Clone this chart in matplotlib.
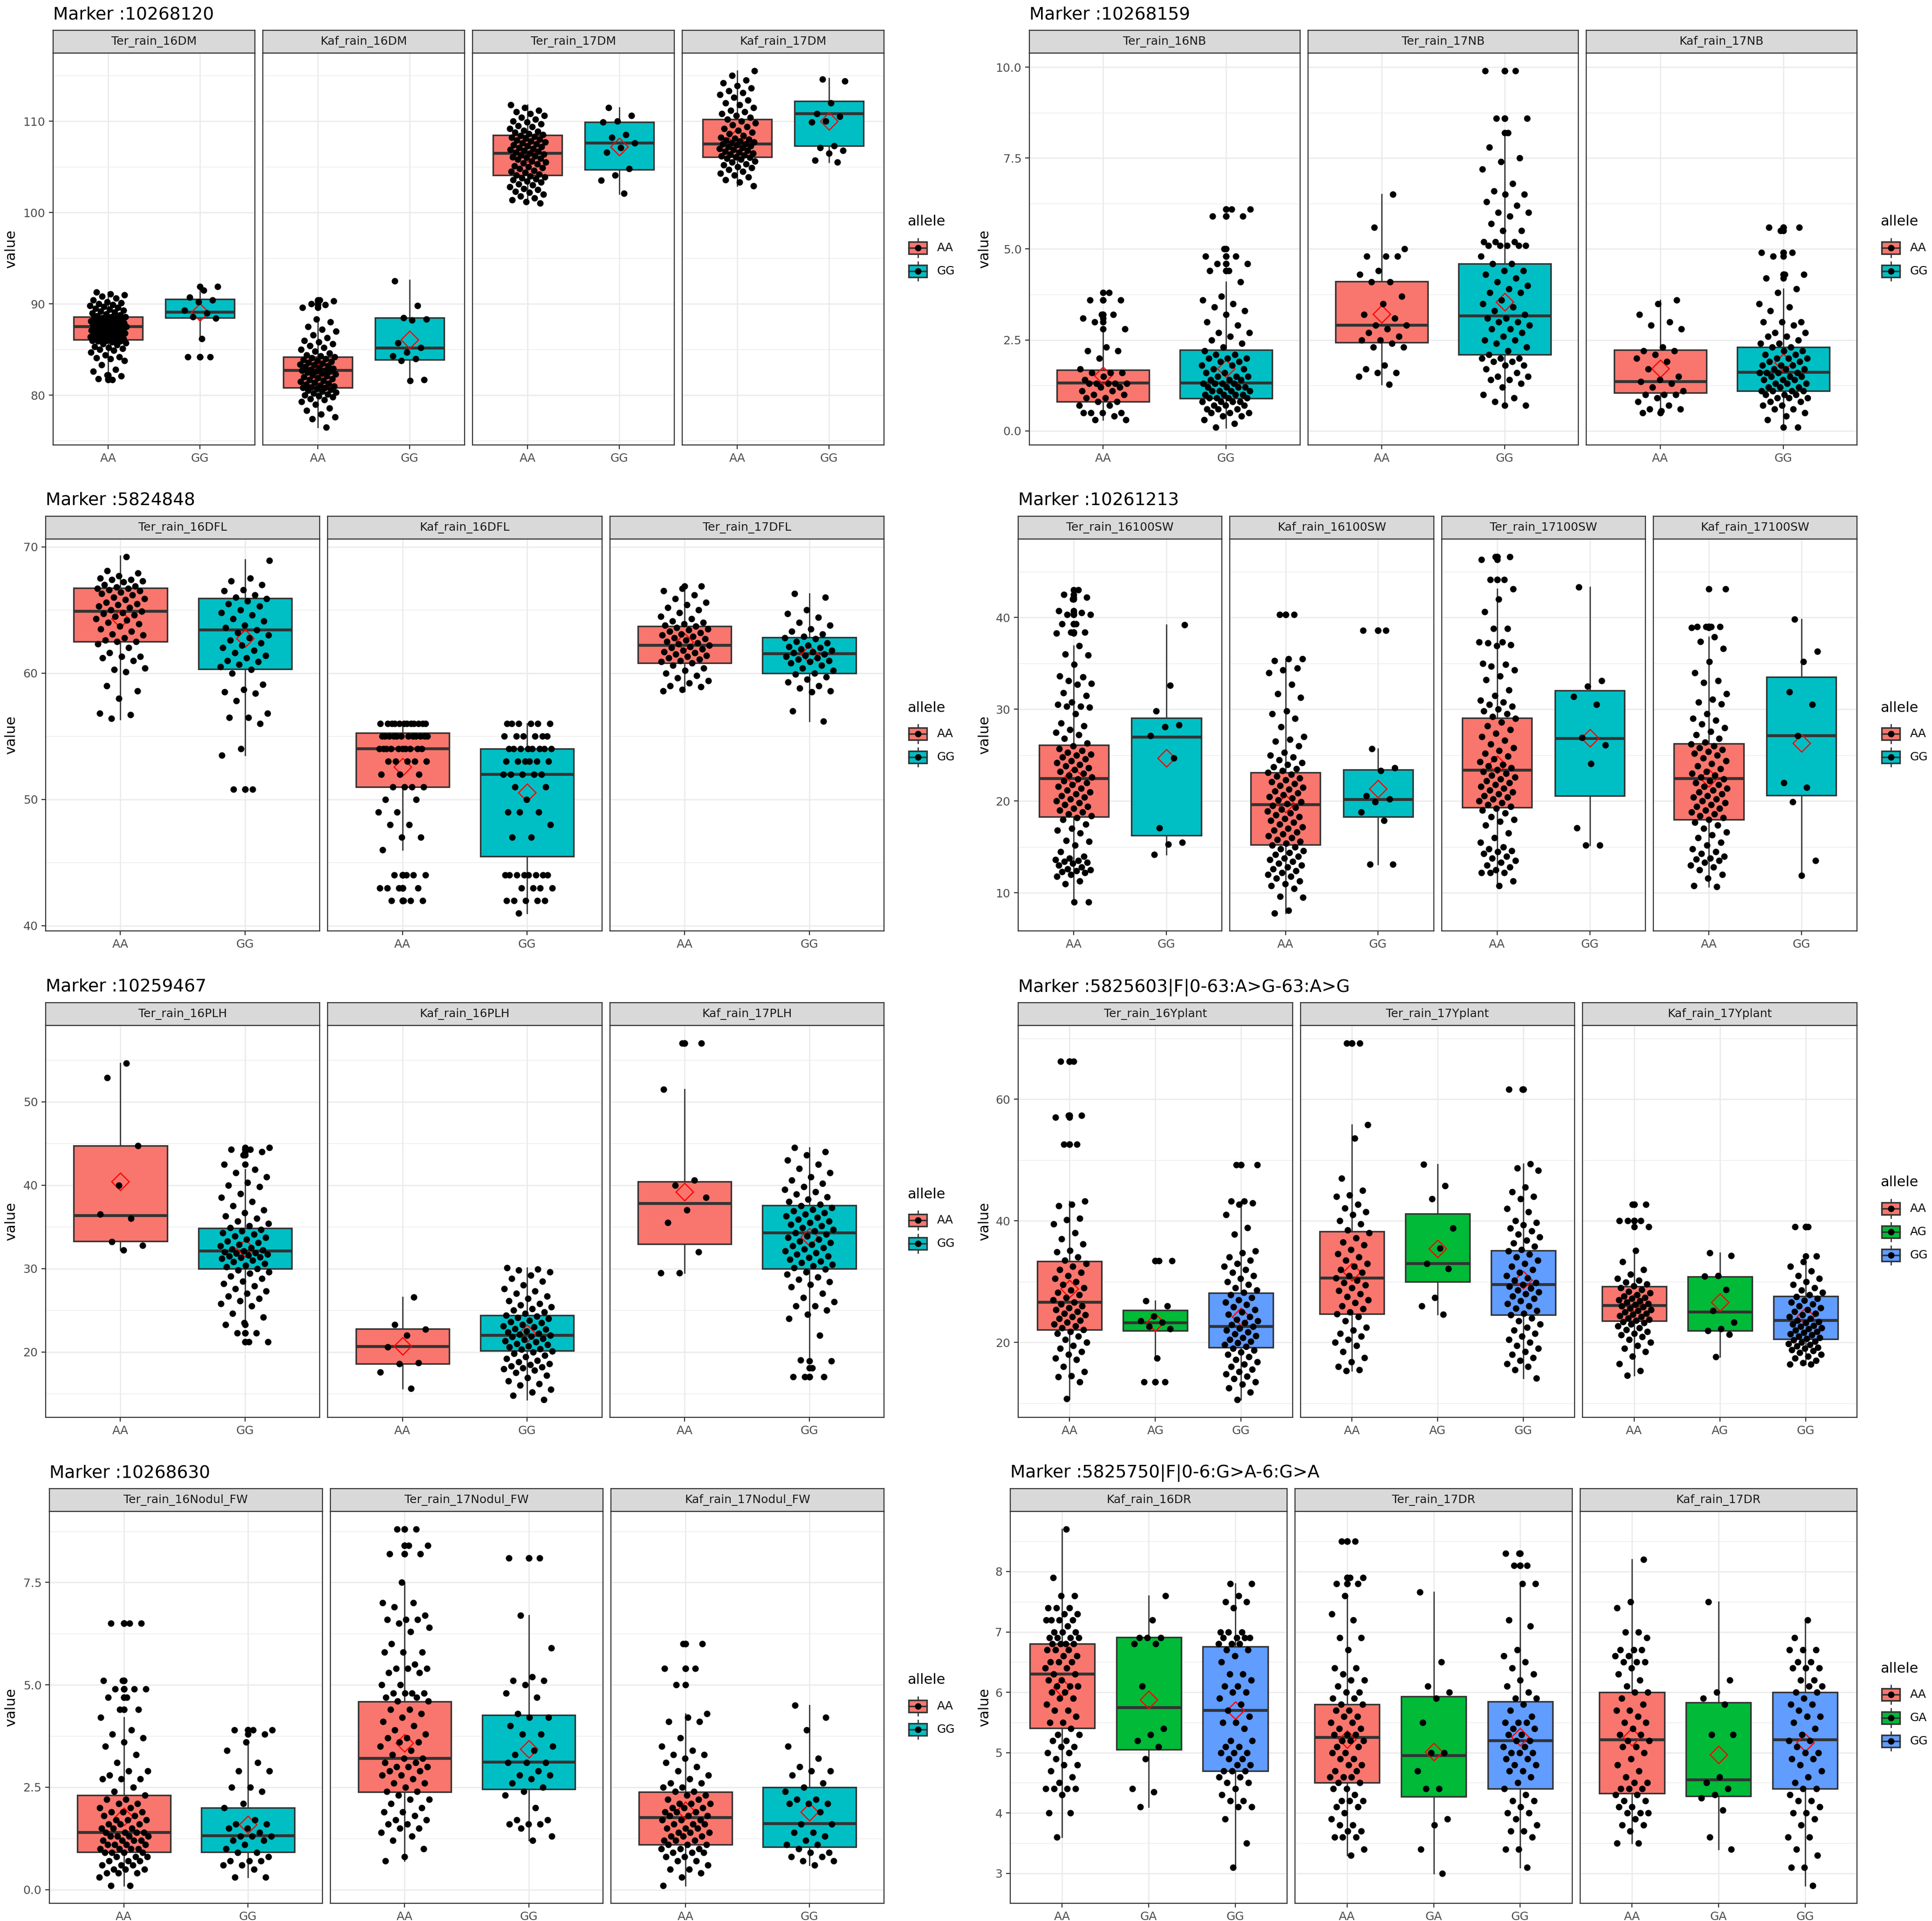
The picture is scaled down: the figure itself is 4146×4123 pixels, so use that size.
import numpy as np
import matplotlib.pyplot as plt
from matplotlib.patches import Rectangle

W, H, DPI = 4146, 4123, 300

# ---------------- data ----------------
# box stats per allele: [whisker low, Q1, median, Q3, whisker high, mean]

# --- Marker 10268120 ---
m1_title = "Marker :10268120"
m1_facets = ["Ter_rain_16DM", "Kaf_rain_16DM", "Ter_rain_17DM", "Kaf_rain_17DM"]
m1_alleles = ["AA", "GG"]
m1_yticks = [80, 90, 100, 110]
m1_ylabels = ["80", "90", "100", "110"]
m1_stats = [
    [[82.3, 86.1, 87.5, 88.6, 91.3, 87.2], [86.2, 88.5, 89.1, 90.5, 91.8, 89.1]],
    [[76.5, 80.8, 82.7, 84.2, 88.3, 82.5], [81.6, 83.9, 85.15, 88.5, 92.6, 86.1]],
    [[101.0, 104.1, 106.5, 108.45, 111.8, 106.5], [102.05, 104.7, 107.6, 109.9, 111.5, 107.2]],
    [[102.9, 106.1, 107.5, 110.2, 115.5, 108.2], [105.5, 107.3, 110.8, 112.2, 114.7, 110.0]],
]
m1_points = [
    [[81.7, 81.8, 82.1, 82.2, 82.6, 82.8, 83.3, 83.8, 84.0, 84.1, 84.2, 84.4, 84.7, 84.9, 85.0,
      85.1, 85.2, 85.3, 85.5, 85.6, 85.7, 85.8, 85.9, 85.9, 86.0, 86.0, 86.1, 86.1, 86.2, 86.2,
      86.3, 86.3, 86.4, 86.4, 86.5, 86.5, 86.6, 86.6, 86.7, 86.7, 86.8, 86.8, 86.9, 86.9, 87.0,
      87.0, 87.1, 87.1, 87.2, 87.2, 87.3, 87.3, 87.4, 87.4, 87.5, 87.5, 87.6, 87.6, 87.7, 87.7,
      87.8, 87.8, 87.9, 87.9, 88.0, 88.0, 88.1, 88.1, 88.2, 88.2, 88.3, 88.3, 88.4, 88.5, 88.5,
      88.6, 88.6, 88.7, 88.8, 88.9, 89.0, 89.1, 89.2, 89.3, 89.4, 89.5, 89.6, 89.7, 89.8, 89.9,
      90.0, 90.1, 90.2, 90.4, 90.6, 90.8, 91.0, 91.1, 91.3],
     [91.9, 91.5, 90.7, 90.4, 90.2, 89.3, 89.0, 88.6, 88.4, 86.2, 84.2, 84.2]],
    [[76.5, 77.4, 77.6, 77.9, 78.3, 78.6, 79.0, 79.3, 79.5, 79.6, 79.8, 79.9, 80.0, 80.1, 80.2,
      80.3, 80.4, 80.5, 80.6, 80.7, 80.8, 80.8, 80.9, 81.0, 81.1, 81.2, 81.3, 81.4, 81.5, 81.6,
      81.7, 81.8, 81.9, 82.0, 82.1, 82.2, 82.3, 82.4, 82.5, 82.6, 82.6, 82.7, 82.7, 82.8, 82.9,
      83.0, 83.1, 83.2, 83.3, 83.4, 83.5, 83.6, 83.7, 83.8, 83.9, 84.0, 84.1, 84.2, 84.3, 84.4,
      84.6, 84.8, 85.0, 85.2, 85.4, 85.6, 85.8, 86.0, 86.3, 86.6, 87.0, 87.2, 87.5, 88.0, 88.3,
      89.6, 89.9, 90.0, 90.3, 90.4],
     [92.5, 89.8, 88.5, 88.3, 88.2, 85.7, 85.2, 84.7, 84.3, 84.0, 83.8, 81.7, 81.6]],
    [[101.0, 101.2, 101.4, 101.6, 101.8, 102.0, 102.2, 102.3, 102.5, 102.6, 102.8, 103.0, 103.1,
      103.3, 103.4, 103.6, 103.7, 103.8, 103.9, 104.0, 104.1, 104.2, 104.4, 104.5, 104.6, 104.8,
      104.9, 105.0, 105.1, 105.3, 105.4, 105.5, 105.6, 105.8, 105.9, 106.0, 106.1, 106.2, 106.3,
      106.4, 106.5, 106.6, 106.7, 106.8, 106.9, 107.0, 107.1, 107.2, 107.3, 107.4, 107.5, 107.6,
      107.7, 107.8, 107.9, 108.0, 108.1, 108.2, 108.3, 108.4, 108.5, 108.6, 108.8, 108.9, 109.0,
      109.2, 109.4, 109.5, 109.7, 109.9, 110.0, 110.2, 110.4, 110.6, 110.8, 111.0, 111.2, 111.5,
      111.8],
     [111.5, 110.6, 110.0, 109.9, 108.5, 108.2, 107.6, 107.1, 106.6, 104.8, 104.1, 103.5, 102.1]],
    [[102.9, 103.3, 103.6, 103.9, 104.1, 104.3, 104.5, 104.7, 104.9, 105.0, 105.2, 105.3, 105.5,
      105.6, 105.8, 105.9, 106.0, 106.1, 106.2, 106.3, 106.4, 106.5, 106.6, 106.7, 106.8, 106.9,
      107.0, 107.1, 107.2, 107.3, 107.4, 107.5, 107.5, 107.6, 107.7, 107.8, 107.9, 108.0, 108.1,
      108.2, 108.4, 108.6, 108.8, 109.0, 109.2, 109.4, 109.6, 109.8, 110.0, 110.2, 110.4, 110.6,
      110.8, 111.0, 111.2, 111.5, 111.8, 112.0, 112.3, 112.6, 112.9, 113.1, 113.3, 113.6, 113.9,
      114.2, 114.5, 115.0, 115.5],
     [114.6, 114.4, 112.0, 110.8, 110.5, 110.0, 109.9, 107.3, 107.1, 106.8, 106.5, 105.7, 105.5]],
]

# --- Marker 10268159 ---
m2_title = "Marker :10268159"
m2_facets = ["Ter_rain_16NB", "Ter_rain_17NB", "Kaf_rain_17NB"]
m2_alleles = ["AA", "GG"]
m2_yticks = [0.0, 2.5, 5.0, 7.5, 10.0]
m2_ylabels = ["0.0", "2.5", "5.0", "7.5", "10.0"]
m2_stats = [
    [[0.30, 0.80, 1.31, 1.675, 2.79, 1.52], [0.08, 0.89, 1.31, 2.22, 4.10, 1.71]],
    [[1.27, 2.43, 2.90, 4.11, 6.51, 3.21], [0.72, 2.10, 3.16, 4.59, 8.19, 3.55]],
    [[0.51, 1.04, 1.35, 2.22, 3.60, 1.71], [0.11, 1.10, 1.61, 2.30, 3.91, 1.88]],
]
m2_points = [
    [[3.8, 3.6, 3.6, 3.2, 3.1, 3.2, 3.0, 2.8, 2.3, 2.2, 2.2, 2.0, 1.7, 1.6, 1.6, 1.6, 1.5, 1.4,
      1.3, 1.3, 1.3, 1.3, 1.3, 1.2, 1.2, 1.1, 1.1, 1.0, 1.0, 0.9, 0.9, 0.8, 0.8, 0.7, 0.7, 0.5,
      0.5, 0.5, 0.5, 0.4, 0.3, 0.3],
     [6.1, 6.1, 5.9, 5.9, 5.0, 4.8, 4.8, 4.6, 4.6, 4.4, 4.4, 4.1, 3.7, 3.6, 3.5, 3.4, 3.3, 3.2,
      3.0, 2.9, 2.7, 2.7, 2.6, 2.5, 2.4, 2.3, 2.2, 2.1, 2.1, 2.0, 2.0, 2.0, 1.9, 1.9, 1.8, 1.8,
      1.7, 1.7, 1.6, 1.6, 1.5, 1.5, 1.5, 1.4, 1.4, 1.4, 1.3, 1.3, 1.3, 1.3, 1.2, 1.2, 1.2, 1.2,
      1.1, 1.1, 1.1, 1.1, 1.0, 1.0, 1.0, 1.0, 0.9, 0.9, 0.9, 0.9, 0.8, 0.8, 0.8, 0.8, 0.7, 0.7,
      0.7, 0.6, 0.6, 0.6, 0.5, 0.5, 0.5, 0.4, 0.4, 0.3, 0.2, 0.1]],
    [[6.5, 5.6, 5.0, 4.8, 4.8, 4.8, 4.4, 4.3, 4.1, 4.1, 3.7, 3.5, 3.2, 3.1, 2.9, 2.9, 2.8, 2.7,
      2.6, 2.5, 2.5, 2.4, 2.3, 2.3, 1.8, 1.7, 1.6, 1.6, 1.5, 1.27],
     [9.9, 9.9, 8.6, 8.6, 8.2, 7.8, 7.5, 7.4, 7.2, 6.8, 6.6, 6.5, 6.5, 6.3, 6.2, 6.0, 6.0, 5.9,
      5.7, 5.5, 5.5, 5.2, 5.2, 5.2, 5.1, 5.1, 5.1, 5.1, 5.1, 4.8, 4.6, 4.6, 4.4, 4.4, 4.3, 4.2,
      4.1, 4.0, 3.9, 3.8, 3.8, 3.6, 3.5, 3.4, 3.3, 3.2, 3.1, 3.1, 3.0, 3.0, 2.9, 2.8, 2.8, 2.7,
      2.6, 2.5, 2.5, 2.4, 2.3, 2.2, 2.1, 2.0, 2.0, 2.0, 1.9, 1.9, 1.8, 1.8, 1.7, 1.6, 1.5, 1.5,
      1.4, 1.4, 1.3, 1.2, 1.0, 0.9, 0.8, 0.7]],
    [[3.6, 3.5, 3.2, 3.0, 2.9, 2.8, 2.3, 2.2, 2.2, 2.1, 2.0, 1.9, 1.7, 1.5, 1.4, 1.35, 1.3, 1.2,
      1.1, 1.0, 1.0, 1.0, 0.9, 0.8, 0.7, 0.6, 0.6, 0.55, 0.5],
     [5.6, 5.6, 5.5, 4.9, 4.9, 4.8, 4.3, 4.3, 4.2, 3.9, 3.8, 3.5, 3.4, 3.3, 3.0, 3.0, 3.0, 2.9,
      2.7, 2.7, 2.6, 2.6, 2.5, 2.4, 2.4, 2.3, 2.3, 2.2, 2.2, 2.1, 2.1, 2.0, 2.0, 2.0, 1.9, 1.9,
      1.8, 1.8, 1.8, 1.7, 1.7, 1.7, 1.6, 1.6, 1.6, 1.6, 1.5, 1.5, 1.5, 1.4, 1.4, 1.4, 1.3, 1.3,
      1.3, 1.2, 1.2, 1.2, 1.1, 1.1, 1.1, 1.1, 1.0, 1.0, 1.0, 0.9, 0.9, 0.9, 0.8, 0.8, 0.7, 0.7,
      0.6, 0.6, 0.5, 0.4, 0.3, 0.1]],
]

# --- Marker 5824848 ---
m3_title = "Marker :5824848"
m3_facets = ["Ter_rain_16DFL", "Kaf_rain_16DFL", "Ter_rain_17DFL"]
m3_alleles = ["AA", "GG"]
m3_yticks = [40, 50, 60, 70]
m3_ylabels = ["40", "50", "60", "70"]
m3_stats = [
    [[56.35, 62.5, 64.9, 66.73, 69.3, 64.3], [53.5, 60.33, 63.43, 65.92, 69.0, 62.75]],
    [[46.0, 51.0, 54.0, 55.25, 56.0, 52.57], [41.0, 45.5, 52.0, 54.0, 56.0, 50.56]],
    [[58.55, 60.8, 62.2, 63.72, 66.85, 62.45], [56.2, 60.0, 61.53, 62.82, 66.3, 61.5]],
]
m3_points = [
    [[69.2, 68.1, 67.9, 67.7, 67.5, 67.4, 67.4, 67.3, 67.2, 67.0, 66.9, 66.8, 66.7, 66.7, 66.6,
      66.5, 66.4, 66.3, 66.2, 66.0, 65.9, 65.8, 65.6, 65.5, 65.4, 65.3, 65.2, 65.0, 64.9, 64.8,
      64.7, 64.6, 64.5, 64.3, 64.2, 64.0, 63.9, 63.7, 63.5, 63.3, 63.1, 63.0, 62.8, 62.6, 62.5,
      62.5, 62.3, 62.0, 61.6, 61.3, 61.3, 61.2, 61.0, 60.3, 60.4, 60.1, 59.0, 58.6, 58.0, 56.8,
      56.7, 56.4],
     [68.9, 67.5, 67.3, 67.0, 66.6, 66.5, 66.2, 66.0, 65.9, 65.7, 65.5, 65.3, 65.0, 64.8, 64.6,
      64.3, 64.1, 63.8, 63.6, 63.4, 63.2, 63.0, 62.8, 62.6, 62.4, 62.2, 62.0, 61.8, 61.6, 61.4,
      61.2, 61.0, 60.9, 60.7, 60.5, 60.3, 60.0, 59.1, 58.7, 58.5, 58.4, 57.8, 56.8, 56.5, 56.5,
      56.0, 54.0, 53.5, 50.8, 50.8]],
    [[56, 56, 56, 56, 56, 56, 56, 56, 56, 56, 56, 56, 55, 55, 55, 55, 55, 55, 55, 55, 55, 55,
      55, 55, 54, 54, 54, 54, 54, 54, 54, 54, 54, 54, 53, 53, 53, 53, 53, 52, 52, 52, 51, 51,
      51, 51, 50, 50, 49, 49, 48, 48, 47, 47, 46, 44, 44, 44, 44, 43, 43, 43, 43, 42, 42, 42,
      42],
     [56, 56, 56, 56, 56, 56, 55, 55, 55, 55, 55, 55, 54, 54, 54, 54, 54, 54, 54, 54, 53, 53,
      53, 53, 53, 53, 52, 52, 52, 52, 52, 51, 51, 50, 49, 49, 49, 48, 47, 47, 44, 44, 44, 44,
      44, 44, 44, 44, 43, 43, 43, 43, 42, 42, 42, 42, 42, 41]],
    [[66.9, 66.7, 66.5, 66.2, 65.9, 65.6, 65.4, 65.2, 65.0, 64.8, 64.5, 64.3, 64.1, 64.0, 63.9,
      63.8, 63.7, 63.6, 63.5, 63.4, 63.3, 63.2, 63.1, 63.0, 62.9, 62.8, 62.7, 62.6, 62.5, 62.4,
      62.3, 62.2, 62.1, 62.0, 61.9, 61.8, 61.7, 61.6, 61.5, 61.4, 61.3, 61.2, 61.1, 61.0, 60.9,
      60.8, 60.6, 60.4, 60.2, 60.0, 59.8, 59.6, 59.4, 59.2, 59.0, 58.9, 58.7, 58.6],
     [66.3, 66.0, 65.0, 64.7, 64.4, 64.0, 63.8, 63.5, 63.3, 63.1, 62.9, 62.8, 62.7, 62.5, 62.4,
      62.2, 62.1, 62.0, 61.9, 61.8, 61.7, 61.6, 61.5, 61.4, 61.3, 61.2, 61.1, 61.0, 60.9, 60.8,
      60.6, 60.4, 60.2, 60.0, 59.9, 59.7, 59.5, 59.3, 59.0, 58.8, 58.6, 58.5, 57.0, 56.2]],
]

# --- Marker 10261213 ---
m4_title = "Marker :10261213"
m4_facets = ["Ter_rain_16100SW", "Kaf_rain_16100SW", "Ter_rain_17100SW", "Kaf_rain_17100SW"]
m4_alleles = ["AA", "GG"]
m4_yticks = [10, 20, 30, 40]
m4_ylabels = ["10", "20", "30", "40"]
m4_stats = [
    [[9.0, 18.28, 22.43, 26.13, 36.9, 22.7], [14.2, 16.28, 26.97, 29.04, 39.2, 24.7]],
    [[7.8, 15.24, 19.62, 23.13, 35.5, 19.7], [13.1, 18.28, 20.19, 23.43, 25.7, 21.35]],
    [[10.8, 19.32, 23.36, 29.04, 43.1, 24.0], [15.2, 20.6, 26.8, 32.05, 43.3, 26.87]],
    [[10.7, 17.98, 22.43, 26.27, 37.9, 22.5], [11.9, 20.65, 27.1, 33.52, 39.8, 26.3]],
]
m4_points = [
    [[43.0, 42.5, 42.2, 42.0, 40.7, 40.5, 40.3, 40.3, 39.3, 39.3, 38.4, 38.4, 38.3, 36.9, 36.0,
      35.9, 34.9, 33.6, 33.5, 33.1, 32.8, 32.7, 31.8, 31.5, 30.8, 30.5, 30.3, 30.3, 30.2, 29.5,
      28.5, 28.2, 27.8, 27.5, 27.2, 26.8, 26.3, 26.0, 25.7, 25.5, 25.3, 25.1, 25.0, 24.8, 24.6,
      24.4, 24.2, 24.0, 23.8, 23.6, 23.4, 23.2, 23.0, 22.8, 22.6, 22.4, 22.2, 22.0, 21.8, 21.6,
      21.4, 21.2, 21.0, 20.8, 20.6, 20.4, 20.2, 20.0, 19.8, 19.6, 19.4, 19.2, 19.0, 18.8, 18.6,
      18.4, 18.2, 18.0, 17.5, 17.0, 16.8, 16.5, 15.7, 15.6, 15.2, 14.5, 14.0, 13.8, 13.6, 13.5,
      13.4, 13.3, 13.2, 13.0, 12.8, 12.6, 12.5, 12.4, 12.3, 12.2, 12.0, 11.8, 11.3, 11.0, 9.0,
      9.0],
     [39.2, 32.6, 29.8, 28.3, 28.1, 27.1, 24.7, 17.1, 15.5, 15.3, 14.2]],
    [[40.3, 40.3, 35.5, 35.5, 35.3, 34.5, 34.3, 34.0, 32.7, 31.7, 31.3, 29.8, 29.5, 29.0, 28.1,
      27.0, 26.7, 26.5, 26.0, 25.3, 25.0, 24.8, 24.5, 24.2, 24.0, 23.7, 23.5, 23.3, 23.1, 22.9,
      22.7, 22.5, 22.3, 22.1, 21.9, 21.7, 21.5, 21.3, 21.1, 20.9, 20.7, 20.5, 20.3, 20.1, 19.9,
      19.7, 19.5, 19.3, 19.1, 18.9, 18.7, 18.5, 18.3, 18.1, 17.9, 17.7, 17.5, 17.2, 17.0, 16.8,
      16.6, 16.4, 16.2, 16.0, 15.8, 15.6, 15.4, 15.2, 15.0, 14.8, 14.6, 14.4, 14.2, 14.0, 13.8,
      13.6, 13.4, 13.2, 13.0, 12.8, 12.6, 12.4, 12.2, 12.0, 11.8, 11.6, 11.3, 11.0, 10.8, 10.5,
      9.6, 9.5, 8.1, 7.8],
     [38.6, 38.6, 25.7, 23.6, 23.3, 20.6, 20.2, 19.9, 18.8, 17.9, 13.1, 13.1]],
    [[46.6, 46.6, 46.3, 44.1, 44.1, 43.1, 42.0, 40.6, 38.8, 38.8, 37.3, 37.3, 37.2, 37.0, 36.9,
      35.0, 34.9, 34.7, 34.3, 33.6, 33.2, 32.1, 31.5, 31.0, 30.8, 30.5, 30.3, 30.0, 29.8, 29.5,
      29.2, 29.0, 28.6, 28.2, 27.8, 27.4, 27.0, 26.6, 26.2, 25.8, 25.5, 25.2, 24.9, 24.6, 24.3,
      24.0, 23.8, 23.6, 23.4, 23.2, 23.0, 22.8, 22.6, 22.4, 22.2, 22.0, 21.8, 21.6, 21.4, 21.2,
      21.0, 20.8, 20.6, 20.4, 20.2, 20.0, 19.8, 19.6, 19.4, 19.2, 19.0, 18.7, 18.3, 18.0, 17.8,
      17.4, 16.5, 16.0, 15.5, 15.0, 14.8, 14.6, 14.5, 14.3, 14.0, 13.8, 13.5, 13.3, 13.0, 12.8,
      12.5, 12.2, 12.2, 12.2, 11.3, 10.8],
     [43.3, 33.1, 32.5, 31.4, 30.5, 26.9, 26.1, 24.1, 17.1, 15.2, 15.2]],
    [[43.1, 39.0, 39.0, 39.0, 39.0, 38.9, 37.9, 37.4, 36.6, 35.2, 34.0, 33.1, 32.9, 31.7, 31.1,
      30.8, 30.6, 29.5, 29.0, 28.8, 28.4, 28.0, 27.6, 27.2, 26.8, 26.4, 26.2, 26.0, 25.8, 25.6,
      25.4, 25.2, 25.0, 24.7, 24.4, 24.1, 23.8, 23.5, 23.2, 23.0, 22.8, 22.6, 22.4, 22.2, 22.0,
      21.8, 21.6, 21.4, 21.2, 21.0, 20.8, 20.6, 20.4, 20.2, 20.0, 19.8, 19.6, 19.4, 19.2, 19.0,
      18.8, 18.6, 18.4, 18.2, 18.0, 17.7, 17.4, 17.0, 16.6, 16.3, 16.0, 15.5, 15.2, 14.8, 14.5,
      14.3, 14.0, 13.8, 13.7, 13.5, 13.3, 13.0, 12.8, 12.5, 12.0, 11.6, 10.8, 10.7],
     [39.8, 36.3, 35.2, 31.9, 30.5, 27.1, 22.0, 21.5, 19.9, 13.5, 11.9]],
]

# --- Marker 10259467 ---
m5_title = "Marker :10259467"
m5_facets = ["Ter_rain_16PLH", "Kaf_rain_16PLH", "Kaf_rain_17PLH"]
m5_alleles = ["AA", "GG"]
m5_yticks = [20, 30, 40, 50]
m5_ylabels = ["20", "30", "40", "50"]
m5_stats = [
    [[32.2, 33.3, 36.33, 44.72, 54.6, 40.4], [23.4, 30.0, 32.08, 34.85, 41.9, 32.45]],
    [[15.6, 18.6, 20.63, 22.8, 26.6, 20.7], [14.3, 20.15, 22.0, 24.4, 30.1, 22.2]],
    [[29.5, 32.93, 37.8, 40.4, 51.5, 39.2], [19.05, 30.0, 34.3, 37.55, 44.5, 33.8]],
]
m5_points = [
    [[54.6, 52.9, 44.7, 40.0, 36.5, 36.0, 33.2, 32.8, 32.2],
     [44.5, 44.3, 44.3, 44.0, 43.6, 42.5, 41.9, 41.5, 41.0, 40.3, 40.0, 39.8, 39.0, 38.5, 38.0,
      37.5, 37.0, 36.7, 36.3, 36.0, 35.7, 35.4, 35.1, 34.9, 34.7, 34.5, 34.3, 34.1, 33.9, 33.7,
      33.5, 33.3, 33.1, 32.9, 32.7, 32.5, 32.3, 32.2, 32.1, 32.0, 31.9, 31.8, 31.7, 31.6, 31.5,
      31.4, 31.3, 31.2, 31.0, 30.8, 30.6, 30.4, 30.2, 30.0, 29.8, 29.6, 29.4, 29.1, 28.8, 28.5,
      28.2, 27.9, 27.6, 27.3, 27.0, 26.7, 26.4, 26.1, 25.8, 25.5, 24.6, 24.2, 23.5, 23.3, 22.3,
      22.3, 21.2, 21.2]],
    [[26.6, 23.3, 22.7, 22.0, 20.6, 18.7, 18.6, 17.6, 15.6],
     [30.1, 29.9, 29.8, 29.6, 29.2, 28.8, 28.5, 28.0, 27.6, 27.3, 27.0, 26.7, 26.4, 26.1, 25.8,
      25.6, 25.4, 25.2, 25.0, 24.8, 24.6, 24.4, 24.3, 24.1, 24.0, 23.8, 23.6, 23.5, 23.3, 23.1,
      23.0, 22.8, 22.7, 22.5, 22.4, 22.2, 22.1, 22.0, 21.9, 21.8, 21.6, 21.5, 21.3, 21.2, 21.0,
      20.9, 20.7, 20.6, 20.4, 20.3, 20.1, 20.0, 19.8, 19.6, 19.4, 19.2, 19.0, 18.8, 18.6, 18.5,
      18.3, 18.2, 18.1, 18.0, 17.8, 17.5, 17.2, 16.9, 16.5, 16.2, 16.0, 15.5, 15.2, 14.8, 14.3]],
    [[57.0, 57.0, 51.5, 40.6, 40.0, 38.5, 37.0, 35.5, 32.0, 29.5, 29.5],
     [44.5, 44.0, 43.6, 43.0, 42.5, 42.0, 41.5, 41.0, 40.6, 40.2, 39.8, 39.5, 39.2, 38.9, 38.6,
      38.3, 38.0, 37.7, 37.5, 37.3, 37.1, 36.9, 36.7, 36.5, 36.3, 36.1, 35.9, 35.7, 35.5, 35.3,
      35.1, 34.9, 34.7, 34.5, 34.3, 34.1, 33.9, 33.7, 33.5, 33.3, 33.1, 32.9, 32.7, 32.5, 32.3,
      32.1, 31.9, 31.7, 31.5, 31.3, 31.1, 30.9, 30.7, 30.5, 30.3, 30.1, 29.9, 29.6, 29.3, 29.0,
      28.7, 28.4, 28.1, 27.8, 27.0, 26.5, 26.0, 25.5, 25.5, 25.0, 24.5, 24.0, 22.0, 19.05, 18.9,
      18.1, 17.0, 17.0, 17.0]],
]

# --- Marker 5825603|F|0-63:A>G-63:A>G ---
m6_title = "Marker :5825603|F|0-63:A>G-63:A>G"
m6_facets = ["Ter_rain_16Yplant", "Ter_rain_17Yplant", "Kaf_rain_17Yplant"]
m6_alleles = ["AA", "AG", "GG"]
m6_yticks = [20, 40, 60]
m6_ylabels = ["20", "40", "60"]
m6_stats = [
    [[10.7, 22.08, 26.6, 33.35, 43.2, 28.8], [17.4, 21.93, 23.2, 25.33, 26.8, 23.3],
     [10.6, 19.14, 22.6, 28.12, 43.2, 24.2]],
    [[15.3, 24.72, 30.56, 38.27, 55.8, 31.6], [24.6, 29.95, 32.94, 41.17, 49.3, 35.4],
     [14.1, 24.57, 29.54, 35.08, 49.4, 30.3]],
    [[14.6, 23.5, 26.04, 29.19, 35.1, 26.5], [17.6, 21.93, 25.0, 30.8, 34.7, 26.6],
     [16.4, 20.56, 23.6, 27.6, 33.3, 24.3]],
]
m6_points = [
    [[66.2, 66.2, 57.3, 57.3, 57.0, 52.6, 52.6, 43.2, 42.7, 42.5, 40.4, 40.2, 39.5, 38.0, 37.0,
      36.2, 35.1, 34.9, 34.0, 33.5, 33.0, 32.5, 32.0, 31.5, 31.0, 30.5, 30.0, 29.5, 29.0, 28.6,
      28.2, 27.8, 27.4, 27.0, 26.6, 26.3, 26.0, 25.7, 25.4, 25.1, 24.8, 24.5, 24.2, 23.9, 23.6,
      23.3, 23.0, 22.7, 22.4, 22.1, 21.8, 21.5, 21.0, 20.5, 20.0, 19.5, 19.0, 18.5, 18.0, 17.4,
      17.2, 16.0, 15.2, 14.5, 14.3, 13.5, 10.7],
     [33.4, 33.4, 26.8, 26.0, 24.3, 23.5, 23.3, 22.6, 22.2, 17.4, 13.5, 13.5],
     [49.2, 49.2, 43.2, 43.2, 42.9, 42.7, 41.0, 38.9, 37.8, 35.0, 34.7, 34.0, 33.5, 33.0, 32.5,
      32.0, 31.5, 31.0, 30.5, 30.0, 29.5, 29.0, 28.6, 28.2, 27.8, 27.4, 27.0, 26.6, 26.2, 25.8,
      25.4, 25.0, 24.6, 24.2, 23.8, 23.5, 23.2, 22.9, 22.6, 22.3, 22.0, 21.7, 21.4, 21.1, 20.8,
      20.5, 20.2, 19.9, 19.6, 19.3, 19.0, 18.7, 18.4, 18.0, 17.6, 17.2, 16.8, 16.4, 16.0, 15.6,
      15.2, 14.8, 14.4, 14.0, 13.5, 13.1, 12.5, 11.8, 10.6]],
    [[69.2, 69.2, 55.8, 53.6, 47.0, 45.0, 44.2, 44.0, 42.7, 42.1, 41.5, 41.0, 40.0, 39.5, 38.5,
      38.0, 37.2, 36.5, 36.0, 35.3, 34.6, 34.0, 33.5, 33.0, 32.5, 32.0, 31.5, 31.0, 30.6, 30.2,
      29.8, 29.4, 29.0, 28.5, 28.0, 27.5, 27.0, 26.5, 26.0, 25.5, 25.0, 24.7, 24.2, 23.5, 22.5,
      22.0, 21.5, 21.0, 20.5, 20.0, 19.5, 18.5, 17.5, 16.8, 16.0, 15.5, 15.3],
     [49.3, 45.8, 43.6, 38.8, 35.5, 33.0, 32.1, 27.4, 26.0, 24.6],
     [61.6, 61.6, 49.4, 48.7, 48.3, 45.5, 44.8, 44.0, 43.6, 42.0, 41.5, 40.0, 39.7, 39.3, 38.8,
      38.3, 37.8, 37.3, 36.8, 36.3, 35.8, 35.3, 35.0, 34.5, 34.0, 33.5, 33.0, 32.5, 32.0, 31.5,
      31.0, 30.6, 30.2, 29.8, 29.5, 29.2, 28.9, 28.6, 28.3, 28.0, 27.6, 27.2, 26.8, 26.4, 26.0,
      25.6, 25.2, 24.8, 24.5, 24.0, 23.5, 23.0, 22.5, 22.0, 21.5, 21.0, 20.5, 20.0, 19.5, 19.0,
      18.5, 18.0, 17.5, 17.0, 16.5, 16.0, 15.5, 14.1]],
    [[42.7, 42.7, 40.0, 40.0, 40.0, 39.0, 35.1, 33.3, 32.0, 31.2, 30.5, 30.2, 29.9, 29.6, 29.3,
      29.0, 28.7, 28.4, 28.1, 27.8, 27.6, 27.4, 27.2, 27.0, 26.8, 26.6, 26.4, 26.2, 26.0, 25.8,
      25.6, 25.4, 25.2, 25.0, 24.8, 24.6, 24.4, 24.2, 24.0, 23.8, 23.6, 23.4, 23.2, 23.0, 22.7,
      22.4, 22.1, 21.8, 21.5, 21.2, 20.9, 20.5, 20.0, 19.5, 19.0, 18.5, 17.7, 16.5, 15.3, 14.6],
     [34.7, 34.3, 31.0, 30.9, 28.7, 25.2, 23.3, 22.2, 21.9, 21.3, 17.6],
     [39.0, 39.0, 34.2, 33.3, 32.5, 31.7, 31.0, 30.5, 30.0, 29.5, 29.0, 28.6, 28.2, 27.8, 27.5,
      27.2, 26.9, 26.6, 26.3, 26.0, 25.7, 25.4, 25.1, 24.8, 24.5, 24.2, 23.9, 23.6, 23.4, 23.2,
      23.0, 22.8, 22.6, 22.4, 22.2, 22.0, 21.8, 21.6, 21.4, 21.2, 21.0, 20.8, 20.6, 20.4, 20.2,
      20.0, 19.8, 19.6, 19.4, 19.2, 19.0, 18.8, 18.6, 18.3, 18.0, 17.7, 17.4, 17.0, 16.6, 16.4,
      16.4]],
]

# --- Marker 10268630 ---
m7_title = "Marker :10268630"
m7_facets = ["Ter_rain_16Nodul_FW", "Ter_rain_17Nodul_FW", "Kaf_rain_17Nodul_FW"]
m7_alleles = ["AA", "GG"]
m7_yticks = [0.0, 2.5, 5.0, 7.5]
m7_ylabels = ["0.0", "2.5", "5.0", "7.5"]
m7_stats = [
    [[0.1, 0.92, 1.40, 2.30, 4.2, 1.78], [0.3, 0.92, 1.31, 2.0, 3.6, 1.59]],
    [[0.7, 2.39, 3.2, 4.59, 7.5, 3.58], [1.2, 2.45, 3.11, 4.26, 6.7, 3.43]],
    [[0.1, 1.10, 1.76, 2.39, 4.3, 1.93], [0.6, 1.04, 1.61, 2.5, 4.5, 1.89]],
]
m7_points = [
    [[6.5, 6.5, 6.5, 5.1, 5.1, 4.9, 4.9, 4.9, 4.7, 4.7, 4.4, 4.4, 4.2, 3.9, 3.8, 3.7, 3.6, 3.5,
      3.3, 3.1, 2.9, 2.9, 2.8, 2.7, 2.7, 2.7, 2.5, 2.4, 2.3, 2.2, 2.2, 2.1, 2.1, 2.0, 2.0, 1.9,
      1.9, 1.9, 1.8, 1.8, 1.7, 1.7, 1.7, 1.6, 1.6, 1.6, 1.5, 1.5, 1.5, 1.4, 1.4, 1.4, 1.4, 1.3,
      1.3, 1.3, 1.3, 1.2, 1.2, 1.2, 1.2, 1.1, 1.1, 1.1, 1.1, 1.0, 1.0, 1.0, 1.0, 0.9, 0.9, 0.9,
      0.9, 0.8, 0.8, 0.8, 0.7, 0.7, 0.7, 0.6, 0.6, 0.6, 0.5, 0.5, 0.5, 0.4, 0.4, 0.4, 0.3, 0.1,
      0.1],
     [3.9, 3.9, 3.9, 3.8, 3.6, 3.4, 3.1, 2.9, 2.9, 2.5, 2.5, 2.4, 2.1, 2.0, 1.7, 1.6, 1.6, 1.5,
      1.5, 1.4, 1.3, 1.3, 1.3, 1.2, 1.2, 1.1, 1.0, 0.9, 0.9, 0.8, 0.7, 0.7, 0.7, 0.6, 0.6, 0.5,
      0.3, 0.3]],
    [[8.8, 8.8, 8.4, 8.4, 8.2, 8.2, 7.5, 7.0, 7.0, 6.9, 6.7, 6.6, 6.6, 6.6, 6.5, 6.4, 6.3, 6.0,
      5.8, 5.8, 5.8, 5.5, 5.4, 5.4, 5.4, 5.3, 5.3, 5.0, 5.0, 4.8, 4.8, 4.8, 4.8, 4.7, 4.7, 4.6,
      4.6, 4.4, 4.4, 4.3, 4.2, 4.1, 4.0, 3.9, 3.8, 3.7, 3.7, 3.6, 3.6, 3.5, 3.4, 3.3, 3.2, 3.2,
      3.1, 3.1, 3.0, 3.0, 3.0, 2.9, 2.9, 2.8, 2.8, 2.7, 2.6, 2.6, 2.5, 2.4, 2.4, 2.3, 2.2, 2.2,
      2.1, 2.0, 1.9, 1.9, 1.8, 1.7, 1.7, 1.6, 1.6, 1.5, 1.5, 1.4, 1.3, 1.2, 1.0, 0.8, 0.7],
     [8.1, 8.1, 6.7, 5.9, 5.2, 5.1, 5.1, 5.0, 4.8, 4.7, 4.3, 4.2, 4.2, 4.0, 3.8, 3.8, 3.5, 3.4,
      3.3, 3.1, 3.1, 3.1, 2.9, 2.8, 2.8, 2.7, 2.6, 2.5, 2.4, 2.3, 2.0, 1.7, 1.7, 1.6, 1.6, 1.6,
      1.5, 1.3, 1.2]],
    [[6.0, 6.0, 5.4, 5.4, 5.0, 4.3, 4.2, 4.1, 4.1, 3.7, 3.5, 3.4, 3.3, 3.3, 3.2, 3.1, 3.0, 2.9,
      2.8, 2.7, 2.6, 2.6, 2.5, 2.5, 2.4, 2.4, 2.3, 2.3, 2.2, 2.2, 2.1, 2.1, 2.1, 2.0, 2.0, 2.0,
      1.9, 1.9, 1.9, 1.8, 1.8, 1.8, 1.7, 1.7, 1.7, 1.6, 1.6, 1.6, 1.5, 1.5, 1.5, 1.4, 1.4, 1.4,
      1.3, 1.3, 1.3, 1.2, 1.2, 1.2, 1.1, 1.1, 1.1, 1.0, 1.0, 1.0, 0.9, 0.9, 0.9, 0.8, 0.8, 0.7,
      0.7, 0.6, 0.5, 0.5, 0.4, 0.3, 0.1],
     [4.5, 4.2, 3.9, 3.5, 3.2, 3.0, 2.9, 2.9, 2.8, 2.6, 2.5, 2.4, 2.2, 2.2, 2.1, 2.1, 2.1, 1.9,
      1.6, 1.6, 1.4, 1.4, 1.3, 1.2, 1.1, 1.1, 1.0, 0.9, 0.9, 0.8, 0.8, 0.7, 0.7, 0.6]],
]

# --- Marker 5825750|F|0-6:G>A-6:G>A ---
m8_title = "Marker :5825750|F|0-6:G>A-6:G>A"
m8_facets = ["Kaf_rain_16DR", "Ter_rain_17DR", "Kaf_rain_17DR"]
m8_alleles = ["AA", "GA", "GG"]
m8_yticks = [3, 4, 5, 6, 7, 8]
m8_ylabels = ["3", "4", "5", "6", "7", "8"]
m8_stats = [
    [[3.6, 5.41, 6.30, 6.80, 8.7, 6.08], [4.1, 5.05, 5.75, 6.91, 7.6, 5.88],
     [3.1, 4.70, 5.70, 6.76, 7.8, 5.70]],
    [[3.3, 4.50, 5.25, 5.80, 7.6, 5.22], [3.0, 4.27, 4.95, 5.93, 7.66, 5.01],
     [3.1, 4.40, 5.2, 5.85, 7.8, 5.26]],
    [[3.5, 4.33, 5.21, 6.0, 8.2, 5.26], [3.4, 4.28, 4.55, 5.83, 7.5, 4.97],
     [2.8, 4.40, 5.21, 6.0, 7.2, 5.17]],
]
m8_points = [
    [[8.7, 7.9, 7.6, 7.6, 7.4, 7.4, 7.4, 7.3, 7.3, 7.2, 7.2, 7.2, 7.2, 7.1, 7.0, 7.0, 7.0, 6.9,
      6.9, 6.9, 6.9, 6.8, 6.8, 6.8, 6.8, 6.7, 6.7, 6.7, 6.6, 6.6, 6.5, 6.5, 6.5, 6.4, 6.4, 6.3,
      6.3, 6.2, 6.2, 6.1, 6.1, 6.1, 6.0, 6.0, 5.9, 5.9, 5.8, 5.7, 5.7, 5.6, 5.5, 5.5, 5.4, 5.3,
      5.3, 5.2, 5.2, 5.1, 5.1, 5.0, 5.0, 4.9, 4.8, 4.8, 4.7, 4.6, 4.5, 4.4, 4.4, 4.4, 4.4, 4.3,
      4.0, 4.0, 3.6],
     [7.6, 7.2, 6.9, 6.9, 6.9, 6.8, 6.8, 6.1, 5.4, 5.3, 5.2, 5.1, 4.9, 4.4, 4.35, 4.1],
     [7.8, 7.8, 7.6, 7.5, 7.5, 7.4, 7.0, 7.0, 7.0, 6.9, 6.9, 6.9, 6.9, 6.8, 6.8, 6.8, 6.7, 6.7,
      6.6, 6.5, 6.3, 6.3, 6.2, 6.1, 6.1, 6.0, 6.0, 5.9, 5.8, 5.7, 5.6, 5.5, 5.5, 5.4, 5.2, 5.2,
      5.1, 5.1, 5.0, 5.0, 5.0, 4.9, 4.9, 4.8, 4.8, 4.7, 4.7, 4.7, 4.6, 4.6, 4.5, 4.5, 4.4, 4.3,
      4.2, 4.2, 4.1, 4.1, 3.9, 3.5, 3.1]],
    [[8.5, 8.5, 7.9, 7.9, 7.8, 7.8, 7.6, 7.3, 7.2, 6.9, 6.9, 6.7, 6.4, 6.4, 6.3, 6.2, 6.2, 6.1,
      6.0, 6.0, 5.9, 5.9, 5.8, 5.8, 5.7, 5.7, 5.6, 5.6, 5.5, 5.5, 5.4, 5.4, 5.3, 5.3, 5.3, 5.2,
      5.2, 5.2, 5.1, 5.1, 5.0, 5.0, 4.9, 4.9, 4.8, 4.8, 4.7, 4.7, 4.6, 4.6, 4.6, 4.5, 4.5, 4.4,
      4.4, 4.3, 4.2, 4.2, 4.2, 4.1, 4.1, 4.0, 3.9, 3.8, 3.8, 3.7, 3.7, 3.6, 3.6, 3.6, 3.4, 3.3],
     [7.66, 6.5, 6.1, 6.0, 5.9, 5.5, 5.0, 5.0, 4.7, 4.4, 4.4, 3.9, 3.8, 3.4, 3.0],
     [8.3, 8.3, 8.1, 8.1, 7.8, 7.8, 7.2, 7.1, 6.7, 6.6, 6.5, 6.4, 6.3, 6.2, 6.1, 6.0, 5.9, 5.9,
      5.8, 5.7, 5.6, 5.5, 5.5, 5.5, 5.4, 5.4, 5.3, 5.3, 5.2, 5.2, 5.1, 5.1, 5.0, 5.0, 5.0, 4.9,
      4.9, 4.8, 4.8, 4.7, 4.7, 4.6, 4.5, 4.4, 4.3, 4.2, 4.2, 4.1, 4.0, 4.0, 3.9, 3.8, 3.7, 3.7,
      3.6, 3.4, 3.4, 3.1]],
    [[8.2, 7.5, 7.4, 7.0, 7.0, 6.9, 6.7, 6.7, 6.7, 6.6, 6.6, 6.5, 6.5, 6.5, 6.4, 6.3, 6.2, 6.1,
      6.0, 6.0, 5.9, 5.8, 5.7, 5.7, 5.6, 5.5, 5.5, 5.4, 5.3, 5.3, 5.2, 5.2, 5.1, 5.1, 5.0, 4.9,
      4.8, 4.7, 4.6, 4.5, 4.5, 4.4, 4.4, 4.4, 4.3, 4.3, 4.2, 4.2, 4.1, 4.1, 4.0, 4.0, 4.0, 3.9,
      3.8, 3.8, 3.7, 3.5, 3.5],
     [7.5, 6.2, 6.0, 5.9, 5.8, 5.3, 5.3, 4.6, 4.5, 4.4, 4.3, 4.25, 4.05, 3.6, 3.4],
     [7.2, 6.9, 6.7, 6.7, 6.7, 6.5, 6.5, 6.4, 6.4, 6.4, 6.2, 6.2, 6.1, 6.1, 6.0, 6.0, 5.9, 5.8,
      5.8, 5.7, 5.6, 5.6, 5.5, 5.4, 5.3, 5.2, 5.2, 5.1, 5.0, 5.0, 4.9, 4.9, 4.8, 4.7, 4.6, 4.5,
      4.4, 4.4, 4.3, 4.2, 4.2, 4.1, 4.0, 4.0, 3.9, 3.8, 3.6, 3.6, 3.4, 3.3, 3.1, 3.1, 2.8]],
]

markers = [
    (m1_title, m1_facets, m1_alleles, m1_yticks, m1_ylabels, m1_stats, m1_points),
    (m2_title, m2_facets, m2_alleles, m2_yticks, m2_ylabels, m2_stats, m2_points),
    (m3_title, m3_facets, m3_alleles, m3_yticks, m3_ylabels, m3_stats, m3_points),
    (m4_title, m4_facets, m4_alleles, m4_yticks, m4_ylabels, m4_stats, m4_points),
    (m5_title, m5_facets, m5_alleles, m5_yticks, m5_ylabels, m5_stats, m5_points),
    (m6_title, m6_facets, m6_alleles, m6_yticks, m6_ylabels, m6_stats, m6_points),
    (m7_title, m7_facets, m7_alleles, m7_yticks, m7_ylabels, m7_stats, m7_points),
    (m8_title, m8_facets, m8_alleles, m8_yticks, m8_ylabels, m8_stats, m8_points),
]

# ---------------- layout (pixels) ----------------
# panel left, panel right, strip top, legend x, y-label x
layout = [
    (114, 1897, 65, 1947, 24),
    (2209, 3985, 65, 4035, 2113),
    (98, 1897, 1108, 1947, 24),
    (2185, 3985, 1108, 4035, 2113),
    (98, 1897, 2152, 1947, 24),
    (2185, 3985, 2152, 4035, 2113),
    (106, 1897, 3195, 1947, 24),
    (2168, 3985, 3195, 4035, 2113),
]
STRIP_H, PANEL_H, GAP = 49, 841, 17

PAL2 = ["#F8766D", "#00BFC4"]
PAL3 = ["#F8766D", "#00BA38", "#619CFF"]
DARK = "#333333"
GRID = "#EBEBEB"
DOT_S = 11.3

plt.rcParams["font.family"] = "DejaVu Sans"

fig = plt.figure(figsize=(W / DPI, H / DPI), dpi=DPI)
fig.patch.set_facecolor("white")

ov = fig.add_axes([0, 0, 1, 1], zorder=10)
ov.set_xlim(0, W)
ov.set_ylim(H, 0)
ov.axis("off")
ov.patch.set_alpha(0)


def px_rect(l, t, w, h):
    return [l / W, 1 - (t + h) / H, w / W, h / H]


def jitter(n, k):
    i = np.arange(n)
    return (((i + 1) * 0.6180339887 + 0.37 * k) % 1.0 - 0.5) * 0.4


for (title, facets, alleles, yticks, ylabels, stats, points), lay in zip(markers, layout):
    left, right, top, leg_x, ylab_x = lay
    nf = len(facets)
    na = len(alleles)
    pal = PAL2 if na == 2 else PAL3
    fw = (right - left - GAP * (nf - 1)) / nf

    allv = np.concatenate([np.asarray(p, float) for f in points for p in f])
    lo, hi = allv.min(), allv.max()
    pad = 0.05 * (hi - lo)
    ylim = (lo - pad, hi + pad)
    step = yticks[1] - yticks[0]
    minor = [t - step / 2 for t in yticks] + [yticks[-1] + step / 2]
    minor = [m for m in minor if ylim[0] <= m <= ylim[1]]

    for fi in range(nf):
        fl = left + fi * (fw + GAP)
        # strip
        sax = fig.add_axes(px_rect(fl, top, fw, STRIP_H))
        sax.set_facecolor("#D9D9D9")
        sax.set_xticks([])
        sax.set_yticks([])
        for s in sax.spines.values():
            s.set_color(DARK)
            s.set_linewidth(0.55)
        sax.text(0.5, 0.5, facets[fi], ha="center", va="center", fontsize=6,
                 color="#1A1A1A", transform=sax.transAxes)

        ax = fig.add_axes(px_rect(fl, top + STRIP_H, fw, PANEL_H))

        bstats = []
        for ai in range(na):
            wl, q1, md, q3, wh, mn = stats[fi][ai]
            bstats.append(dict(whislo=wl, q1=q1, med=md, q3=q3, whishi=wh))
        bp = ax.bxp(bstats, positions=np.arange(1, na + 1), widths=0.75,
                    showfliers=False, showcaps=False, patch_artist=True,
                    manage_ticks=False,
                    boxprops=dict(edgecolor=DARK, linewidth=0.8),
                    medianprops=dict(color=DARK, linewidth=1.5),
                    whiskerprops=dict(color=DARK, linewidth=0.65))
        for patch, c in zip(bp["boxes"], pal):
            patch.set_facecolor(c)
            patch.set_zorder(1.5)
        for ln in bp["medians"]:
            ln.set_zorder(1.6)

        for ai in range(na):
            pos = ai + 1
            wl, q1, md, q3, wh, mn = stats[fi][ai]
            ax.plot(pos, mn, marker=(4, 0, 0), ms=9, mfc="none", mec="red",
                    mew=0.6, zorder=2)
            y = np.asarray(points[fi][ai], float)
            x = pos + jitter(len(y), fi * 3 + ai)
            ax.scatter(x, y, s=DOT_S, c="black", linewidths=0, zorder=3)
            out = y[(y < wl - 1e-9) | (y > wh + 1e-9)]
            if len(out):
                ax.scatter(np.full(len(out), pos), out, s=DOT_S, c="black",
                           linewidths=0, zorder=3)

        ax.set_xlim(0.4, na + 0.6)
        ax.set_ylim(*ylim)
        ax.set_yticks(yticks)
        ax.set_yticklabels(ylabels)
        ax.set_yticks(minor, minor=True)
        ax.set_xticks(np.arange(1, na + 1))
        ax.set_xticklabels(alleles)
        ax.grid(axis="y", which="major", color=GRID, lw=0.65)
        ax.grid(axis="y", which="minor", color=GRID, lw=0.35)
        ax.grid(axis="x", which="major", color=GRID, lw=0.65)
        ax.set_axisbelow(True)
        ax.tick_params(which="minor", length=0)
        ax.tick_params(which="major", length=2.2, width=0.55, color=DARK,
                       labelsize=6, labelcolor="#4D4D4D", pad=1.8)
        if fi > 0:
            ax.tick_params(axis="y", left=False, labelleft=False)
        for s in ax.spines.values():
            s.set_color(DARK)
            s.set_linewidth(0.55)

    # title
    ov.text(left, top - 24, title, fontsize=9, color="black", ha="left",
            va="baseline")
    # y axis label
    ov.text(ylab_x, top + STRIP_H + PANEL_H / 2, "value", rotation=90,
            fontsize=7.3, ha="center", va="center", color="black")
    # legend
    mid = top + (STRIP_H + PANEL_H) / 2
    tc = mid - 34 - 25 * (na - 2)
    ov.text(leg_x, tc, "allele", fontsize=7.3, ha="left", va="center")
    for ai, lab in enumerate(alleles):
        kc = tc + 56 + 50 * ai
        cx = leg_x + 22.5
        ov.plot([cx, cx], [kc - 20, kc + 20], color=DARK, lw=0.65)
        ov.add_patch(Rectangle((leg_x + 3, kc - 13), 39, 26, facecolor=pal[ai],
                               edgecolor=DARK, lw=0.8, zorder=2))
        ov.plot([leg_x + 3, leg_x + 42], [kc, kc], color=DARK, lw=0.8, zorder=3)
        ov.scatter([cx], [kc], s=DOT_S, c="black", linewidths=0, zorder=4)
        ov.text(leg_x + 64, kc, lab, fontsize=6, ha="left", va="center",
                color="black")

fig.savefig("out.png", dpi=DPI, facecolor="white")
